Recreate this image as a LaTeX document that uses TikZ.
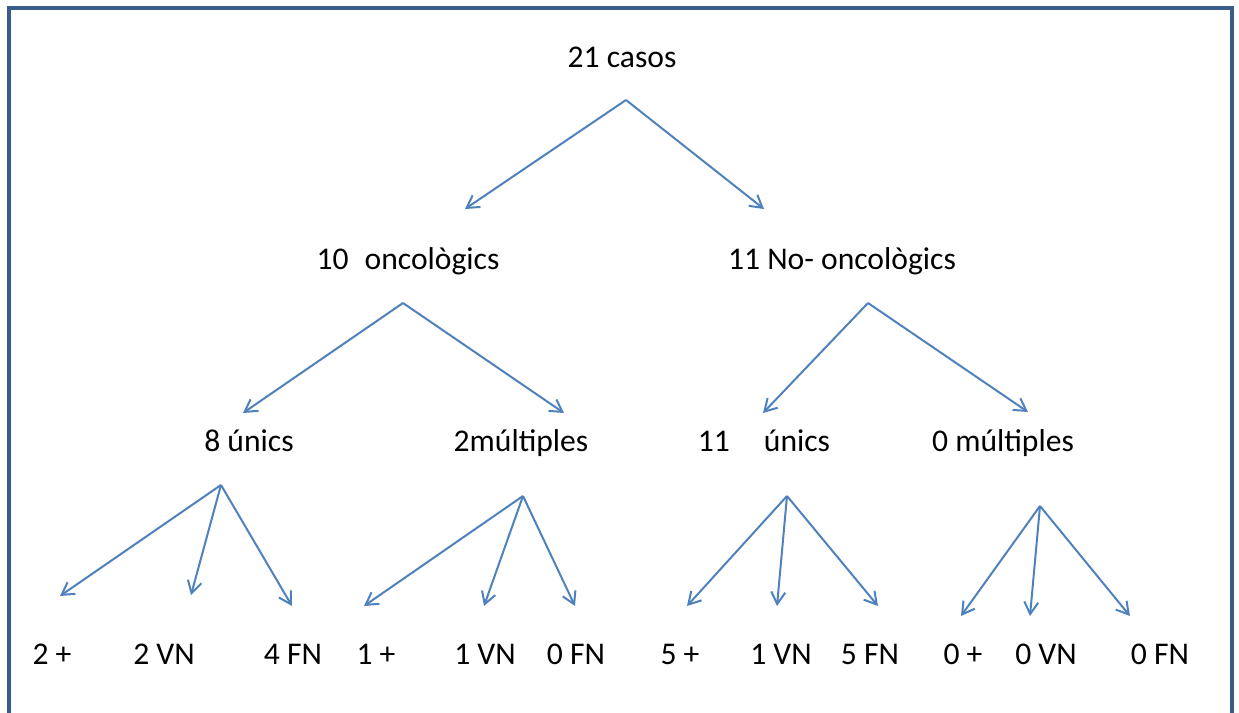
\documentclass[tikz,border=0pt]{standalone}
\usepackage{fontspec}
\setmainfont{Carlito}
\usetikzlibrary{arrows.meta,positioning}

\definecolor{arrowblue}{RGB}{79,129,189}
\definecolor{frameblue}{RGB}{56,93,138}

\tikzset{
  lbl/.style={anchor=base, inner sep=0pt, font=\fontsize{15.8}{19}\selectfont},
  arr/.style={draw=arrowblue, line width=1pt, -{Straight Barb[length=6pt,width=7pt]}}
}

\begin{document}
\begin{tikzpicture}[x=0.5pt,y=-0.5pt]
    \useasboundingbox (0,0) rectangle (1239,713);
    \draw[frameblue, line width=2pt] (9,720) -- (9,8) -- (1232,8) -- (1232,720);
    % labels
    \node[lbl] (casos) at (622,67) {21 casos};
    \node[lbl] (onco) at (408,269) {10\hspace{8pt}oncològics};
    \node[lbl] (noonco) at (842,269) {11 No- oncològics};
    \node[lbl] (unicsA) at (249,451) {8 únics};
    \node[lbl] (multA) at (521,451) {2múltiples};
    \node[lbl] (unicsB) at (764,451) {11\hspace{17pt}únics};
    \node[lbl] (multB) at (1003,451) {0 múltiples};
    \foreach \n/\x/\t in {a1/52/2 +, a2/164/2 VN, a3/293/4 FN, b1/376/1 +, b2/485/1 VN, b3/576/0 FN,
        c1/680/5 +, c2/781/1 VN, c3/870/5 FN, d1/963/0 +, d2/1046/0 VN, d3/1160/0 FN}
      { \node[lbl] (\n) at (\x,664) {\t}; }
    % fork points and arrow ends
    \foreach \n/\x/\y in {fcasos/626/100, fonco/403/303, fnoonco/868/303, funicsA/221/485,
        fmultA/523/496, funicsB/787/496, fmultB/1040/506}
      { \coordinate (\n) at (\x,\y); }
    \foreach \n/\x/\y in {tonco/465/209, tnoonco/764/209, tunicsA/243/413, tmultA/564/413,
        tunicsB/763/413, tmultB/1028/412, ta1/60/596, ta2/191/595, ta3/292/606,
        tb1/364/606, tb2/484/606, tb3/575/606, tc1/687/606, tc2/777/606, tc3/878/606,
        td1/961/616, td2/1030/616, td3/1130/616}
      { \coordinate (\n) at (\x,\y); }
    \draw[arr] (fcasos) -- (tonco);
    \draw[arr] (fcasos) -- (tnoonco);
    \draw[arr] (fonco) -- (tunicsA);
    \draw[arr] (fonco) -- (tmultA);
    \draw[arr] (fnoonco) -- (tunicsB);
    \draw[arr] (fnoonco) -- (tmultB);
    \foreach \f/\g in {funicsA/a, fmultA/b, funicsB/c, fmultB/d}
      { \foreach \i in {1,2,3} { \draw[arr] (\f) -- (t\g\i); } }
\end{tikzpicture}
\end{document}
